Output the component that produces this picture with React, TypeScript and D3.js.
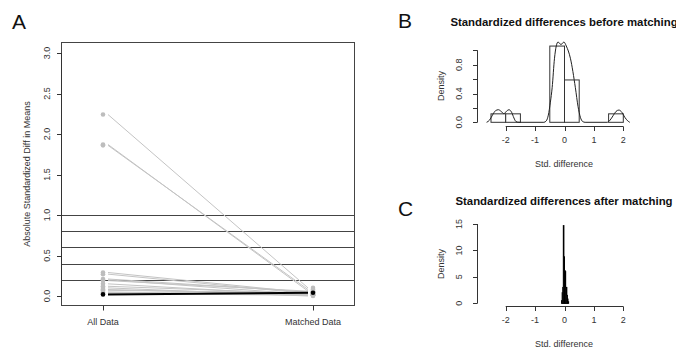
import * as d3 from "d3"

// Panel A: absolute standardized difference in means, per covariate
const allData = [2.24, 1.87, 1.86, 0.29, 0.27, 0.21, 0.2, 0.19, 0.15, 0.12, 0.1, 0.08, 0.07, 0.05, 0.04, 0.03, 0.02]
const matchedData = [0.1, 0.06, 0.08, 0.04, 0.03, 0.05, 0.02, 0.06, 0.01, 0.03, 0.0, 0.02, 0.04, 0.01, 0.02, 0.01, 0.04]
const worsened = [false, false, false, false, false, false, false, false, false, false, false, false, false, false, false, false, true]
const groups = ["All Data", "Matched Data"]
const refLines = [0.2, 0.4, 0.6, 0.8, 1.0]
const yTicksA = [0, 0.5, 1, 1.5, 2, 2.5, 3]

// Panel B: histogram before matching (bin width 0.5)
const binsBefore = [
  { x0: -2.5, x1: -2.0, d: 0.1176 },
  { x0: -2.0, x1: -1.5, d: 0.1176 },
  { x0: -1.5, x1: -1.0, d: 0 },
  { x0: -1.0, x1: -0.5, d: 0 },
  { x0: -0.5, x1: 0.0, d: 1.0588 },
  { x0: 0.0, x1: 0.5, d: 0.5882 },
  { x0: 0.5, x1: 1.0, d: 0 },
  { x0: 1.0, x1: 1.5, d: 0 },
  { x0: 1.5, x1: 2.0, d: 0.1176 },
]
// density curve
const densityBefore: [number, number][] = [
  [-2.65, 0], [-2.55, 0.03], [-2.45, 0.1], [-2.35, 0.16], [-2.25, 0.175], [-2.15, 0.15], [-2.06, 0.12],
  [-1.97, 0.155], [-1.89, 0.175], [-1.8, 0.14], [-1.72, 0.06], [-1.65, 0.01], [-1.55, 0],
  [-0.7, 0], [-0.62, 0.02], [-0.55, 0.1], [-0.48, 0.28], [-0.42, 0.48], [-0.34, 0.89], [-0.28, 1.06],
  [-0.22, 1.115], [-0.12, 1.08], [-0.02, 1.115], [0.06, 1.06], [0.2, 0.89], [0.37, 0.48], [0.46, 0.22],
  [0.54, 0.07], [0.62, 0.01], [0.7, 0],
  [1.45, 0], [1.55, 0.03], [1.65, 0.09], [1.75, 0.15], [1.85, 0.17], [1.95, 0.14], [2.05, 0.07], [2.15, 0.02], [2.22, 0],
]
const yTicksB = [0, 0.2, 0.4, 0.6, 0.8, 1.0]
const yLabelsB = [0, 0.4, 0.8]

// Panel C: histogram after matching (bin width 0.02)
const binsAfter = [
  { x0: -0.1, x1: -0.08, d: 0.5 },
  { x0: -0.08, x1: -0.06, d: 2 },
  { x0: -0.06, x1: -0.04, d: 3 },
  { x0: -0.04, x1: -0.02, d: 14.7 },
  { x0: -0.02, x1: 0.0, d: 8.8 },
  { x0: 0.0, x1: 0.02, d: 6.2 },
  { x0: 0.02, x1: 0.04, d: 6 },
  { x0: 0.04, x1: 0.06, d: 3 },
  { x0: 0.06, x1: 0.08, d: 3 },
  { x0: 0.08, x1: 0.1, d: 1.5 },
  { x0: 0.1, x1: 0.12, d: 0.8 },
  { x0: 0.12, x1: 0.14, d: 0.3 },
]
const yTicksC = [0, 5, 10, 15]
const xTicksBC = [-2, -1, 0, 1, 2]

const font = "'Liberation Sans', Arial, sans-serif"
const ink = "#333"

export default function App() {
  // Panel A scales
  const xA = d3.scaleLinear().domain([0.8, 2.2]).range([61, 355])
  const yA = d3.scaleLinear().domain([0, 3]).range([296, 53])
  // Panel B / C scales
  const xB = d3.scaleLinear().domain([-2, 2]).range([505.7, 623.3])
  const yB = d3.scaleLinear().domain([0, 1]).range([122.3, 50.3])
  const yC = d3.scaleLinear().domain([0, 15]).range([303.3, 224])

  const curve = d3.line<[number, number]>()
    .x(d => xB(d[0]))
    .y(d => yB(d[1]))
    .curve(d3.curveMonotoneX)

  const order = d3.range(allData.length).sort((a, b) => Number(worsened[a]) - Number(worsened[b]))

  const yAxis = (scale: d3.ScaleLinear<number, number>, ticks: number[], labels: number[], x: number, labelX: number, fmt: (v: number) => string) => (
    <g>
      <line x1={x} x2={x} y1={scale(ticks[0])} y2={scale(ticks[ticks.length - 1])} stroke={ink} />
      {ticks.map(t => (
        <line key={t} x1={x - 4.5} x2={x} y1={Math.round(scale(t)) + 0.5} y2={Math.round(scale(t)) + 0.5} stroke={ink} />
      ))}
      {labels.map(t => (
        <text key={t} transform={`translate(${labelX},${scale(t)}) rotate(-90)`} textAnchor="middle"
          fontSize={9} fill={ink} fontFamily={font}>{fmt(t)}</text>
      ))}
    </g>
  )

  const xAxisBC = (y: number, labelY: number) => (
    <g>
      <line x1={xB(-2)} x2={xB(2)} y1={y} y2={y} stroke={ink} />
      {xTicksBC.map(t => (
        <g key={t}>
          <line x1={Math.round(xB(t)) + 0.5} x2={Math.round(xB(t)) + 0.5} y1={y} y2={y + 4.5} stroke={ink} />
          <text x={xB(t)} y={labelY} textAnchor="middle" fontSize={9} fill={ink} fontFamily={font}>{t}</text>
        </g>
      ))}
    </g>
  )

  return (
    <div style={{ position: "fixed", left: 0, top: 0 }}>
      <svg width={676} height={348} style={{ display: "block", background: "#fff" }}>
        {/* ---------- Panel A ---------- */}
        <text x={12} y={29} fontSize={21} fontFamily={font} fill="#111">A</text>
        {refLines.map(v => (
          <line key={v} x1={61} x2={355} y1={Math.round(yA(v)) + 0.5} y2={Math.round(yA(v)) + 0.5} stroke="#444" />
        ))}
        {order.map(i => (
          <line key={"l" + i} x1={xA(1) + 5} x2={xA(2) - 5} y1={yA(allData[i])} y2={yA(matchedData[i])}
            stroke={worsened[i] ? "#000" : "#c4c4c4"} strokeWidth={worsened[i] ? 2 : 1} />
        ))}
        {order.map(i => (
          <g key={"p" + i}>
            <circle cx={xA(1)} cy={yA(allData[i])} r={2.3} fill={worsened[i] ? "#000" : "#bdbdbd"} />
            <circle cx={xA(2)} cy={yA(matchedData[i])} r={2.3} fill={worsened[i] ? "#000" : "#bdbdbd"} />
          </g>
        ))}
        <rect x={61.5} y={42.5} width={293} height={263} fill="none" stroke="#444" />
        {yAxis(yA, yTicksA, yTicksA, 61.5, 50, d3.format(".1f"))}
        {groups.map((g, i) => (
          <g key={g}>
            <line x1={Math.round(xA(i + 1)) + 0.5} x2={Math.round(xA(i + 1)) + 0.5} y1={306} y2={310.5} stroke={ink} />
            <text x={xA(i + 1)} y={325} textAnchor="middle" fontSize={9} fill={ink} fontFamily={font}>{g}</text>
          </g>
        ))}
        <text transform="translate(30,174) rotate(-90)" textAnchor="middle" fontSize={9} fill={ink} fontFamily={font}>
          Absolute Standardized Diff in Means
        </text>

        {/* ---------- Panel B ---------- */}
        <text x={398} y={28} fontSize={21} fontFamily={font} fill="#111">B</text>
        <text x={564} y={25.5} textAnchor="middle" fontSize={11.4} fontWeight="bold" fontFamily={font} fill="#111">
          Standardized differences before matching
        </text>
        {binsBefore.map((b, i) => (
          <rect key={i} x={xB(b.x0)} y={yB(b.d)} width={xB(b.x1) - xB(b.x0)} height={yB(0) - yB(b.d)}
            fill="#fff" stroke={ink} strokeWidth={1} />
        ))}
        <path d={curve(densityBefore) ?? ""} fill="none" stroke="#222" strokeWidth={1} />
        {yAxis(yB, yTicksB, yLabelsB, 477.5, 462, d3.format(".1f"))}
        {xAxisBC(126.5, 143)}
        <text x={564} y={167} textAnchor="middle" fontSize={9} fill={ink} fontFamily={font}>Std. difference</text>
        <text transform="translate(443.5,86) rotate(-90)" textAnchor="middle" fontSize={9} fill={ink} fontFamily={font}>Density</text>

        {/* ---------- Panel C ---------- */}
        <text x={398} y={216} fontSize={21} fontFamily={font} fill="#111">C</text>
        <text x={564} y={205} textAnchor="middle" fontSize={11.4} fontWeight="bold" fontFamily={font} fill="#111">
          Standardized differences after matching
        </text>
        {binsAfter.map((b, i) => (
          <rect key={i} x={xB(b.x0)} y={yC(b.d)} width={xB(b.x1) - xB(b.x0)} height={yC(0) - yC(b.d)}
            fill="#fff" stroke="#000" strokeWidth={1} />
        ))}
        {yAxis(yC, yTicksC, yTicksC, 477.5, 462, d3.format("d"))}
        {xAxisBC(306.5, 323)}
        <text x={564} y={347} textAnchor="middle" fontSize={9} fill={ink} fontFamily={font}>Std. difference</text>
        <text transform="translate(443.5,264) rotate(-90)" textAnchor="middle" fontSize={9} fill={ink} fontFamily={font}>Density</text>
      </svg>
    </div>
  )
}
